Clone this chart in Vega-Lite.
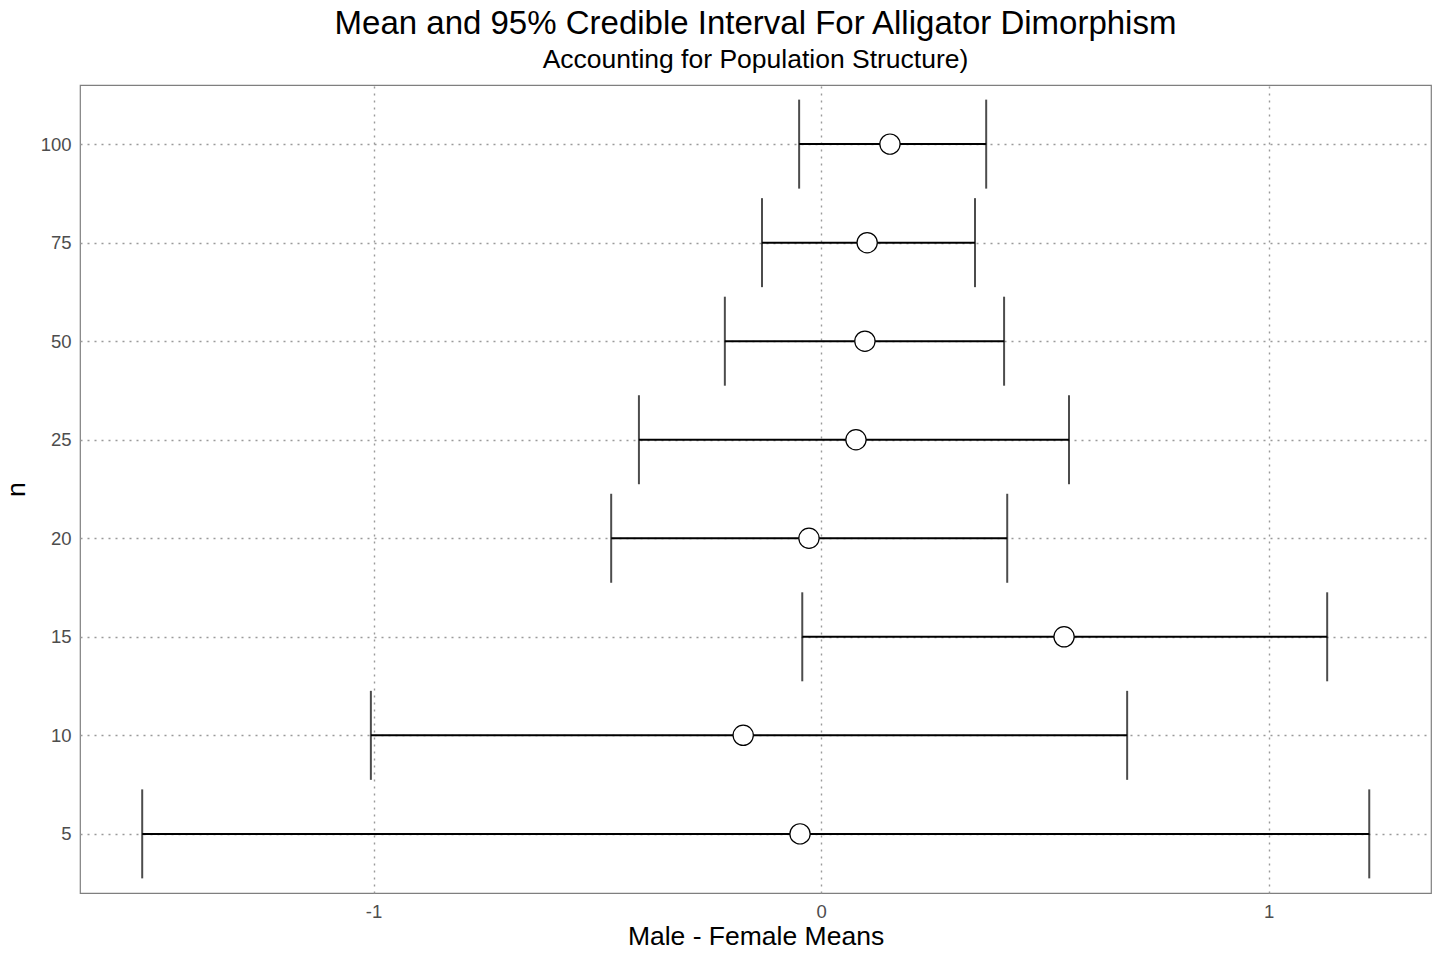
{
  "$schema": "https://vega.github.io/schema/vega-lite/v6.json",
  "autosize": {"type": "none"},
  "padding": {"left": 80, "top": 85, "right": 9, "bottom": 67},
  "width": 1351,
  "height": 808,
  "background": "white",
  "title": {
    "text": "Mean and 95% Credible Interval For Alligator Dimorphism",
    "subtitle": "Accounting for Population Structure)",
    "anchor": "middle",
    "frame": "group",
    "font": "Liberation Sans",
    "fontSize": 33,
    "fontWeight": "normal",
    "color": "black",
    "subtitleFont": "Liberation Sans",
    "subtitleFontSize": 26.5,
    "subtitleColor": "black",
    "subtitlePadding": 6,
    "offset": 12
  },
  "config": {
    "view": {"stroke": "#7f7f7f", "strokeWidth": 1.2},
    "axis": {
      "grid": true,
      "gridColor": "#9a9a9a",
      "gridDash": [2, 5],
      "gridWidth": 1.4,
      "domain": false,
      "ticks": false,
      "labelFont": "Liberation Sans",
      "labelFontSize": 18.5,
      "labelColor": "#4d4d4d",
      "titleFont": "Liberation Sans",
      "titleFontSize": 26.5,
      "titleFontWeight": "normal",
      "titleColor": "black"
    }
  },
  "data": {
    "values": [
      {"n": 100, "mean": 0.154, "low": -0.049, "high": 0.369},
      {"n": 75, "mean": 0.103, "low": -0.132, "high": 0.344},
      {"n": 50, "mean": 0.098, "low": -0.215, "high": 0.409},
      {"n": 25, "mean": 0.078, "low": -0.407, "high": 0.554},
      {"n": 20, "mean": -0.027, "low": -0.469, "high": 0.416},
      {"n": 15, "mean": 0.543, "low": -0.042, "high": 1.131},
      {"n": 10, "mean": -0.174, "low": -1.006, "high": 0.684},
      {"n": 5, "mean": -0.047, "low": -1.517, "high": 1.225}
    ]
  },
  "encoding": {
    "y": {
      "field": "n",
      "type": "ordinal",
      "scale": {"type": "point", "domain": [100, 75, 50, 25, 20, 15, 10, 5], "padding": 0.6},
      "axis": {"title": "n", "labelPadding": 9, "titlePadding": 10}
    }
  },
  "layer": [
    {
      "mark": {"type": "rule", "color": "black", "strokeWidth": 2},
      "encoding": {
        "x": {
          "field": "low",
          "type": "quantitative",
          "scale": {"domain": [-1.656, 1.363], "nice": false, "zero": false},
          "axis": {"title": "Male - Female Means", "values": [-1, 0, 1], "labelExpr": "'' + datum.value", "labelPadding": 9, "titlePadding": 3}
        },
        "x2": {"field": "high"}
      }
    },
    {
      "mark": {"type": "tick", "orient": "vertical", "color": "black", "size": 89, "thickness": 2},
      "encoding": {"x": {"field": "low", "type": "quantitative"}}
    },
    {
      "mark": {"type": "tick", "orient": "vertical", "color": "black", "size": 89, "thickness": 2},
      "encoding": {"x": {"field": "high", "type": "quantitative"}}
    },
    {
      "mark": {"type": "point", "shape": "circle", "filled": true, "fill": "white", "stroke": "black", "strokeWidth": 1.2, "size": 410, "opacity": 1},
      "encoding": {"x": {"field": "mean", "type": "quantitative"}}
    }
  ]
}
